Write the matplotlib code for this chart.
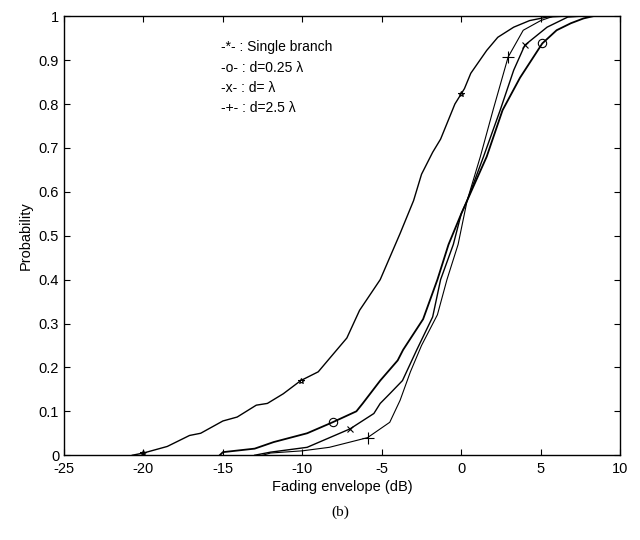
import matplotlib
matplotlib.use("Agg")
import matplotlib.pyplot as plt
import numpy as np

plt.rcParams["font.family"] = ["Liberation Sans", "DejaVu Sans"]
plt.rcParams["axes.unicode_minus"] = False

single_db = [-20.7, -20.0, -18.5, -17.1, -16.4, -15.0, -14.1, -12.9, -12.2, -11.2, -10.1,
             -9.0, -8.3, -7.2, -6.4, -5.1, -3.85, -3.0, -2.5, -1.8, -1.3, -0.4, 0.2, 0.6,
             1.6, 2.3, 3.3, 4.3, 5.4, 6.5]
single_p = [0.0, 0.005, 0.02, 0.045, 0.05, 0.078, 0.087, 0.114, 0.118, 0.14, 0.17,
            0.19, 0.22, 0.267, 0.33, 0.40, 0.505, 0.58, 0.64, 0.69, 0.72, 0.80, 0.835, 0.87,
            0.922, 0.952, 0.975, 0.99, 0.998, 1.0]

o_db = [-15.2, -15.0, -13.0, -11.8, -9.7, -8.1, -6.6, -6.2, -5.1, -4.0, -3.66, -2.4,
        -1.5, -0.8, 0.0, 0.37, 1.6, 2.6, 3.7, 5.1, 6.0, 6.9, 7.7, 8.3]
o_p = [0.0, 0.007, 0.015, 0.03, 0.05, 0.075, 0.10, 0.118, 0.17, 0.216, 0.24, 0.31,
       0.40, 0.48, 0.55, 0.58, 0.68, 0.786, 0.86, 0.938, 0.968, 0.984, 0.995, 1.0]

x_db = [-13.0, -12.0, -9.7, -7.0, -5.5, -5.1, -4.5, -3.7, -2.8, -1.8, -1.3, -0.5, 0.0,
        0.37, 1.4, 2.45, 3.3, 4.0, 5.4, 6.7, 7.5]
x_p = [0.0, 0.007, 0.018, 0.06, 0.095, 0.118, 0.14, 0.17, 0.24, 0.315, 0.40, 0.48, 0.55,
       0.58, 0.68, 0.786, 0.877, 0.934, 0.975, 0.998, 1.0]

plus_db = [-12.5, -12.0, -10.0, -8.3, -5.9, -4.5, -3.85, -3.2, -2.5, -1.5, -0.9, -0.2,
           0.37, 1.2, 2.0, 2.95, 3.9, 5.0, 5.8]
plus_p = [0.0, 0.005, 0.01, 0.018, 0.04, 0.075, 0.125, 0.19, 0.25, 0.32, 0.40, 0.48,
          0.58, 0.68, 0.786, 0.907, 0.968, 0.99, 1.0]

# where the sparse markers sit along each curve (dB)
single_marks = [-20.0, -10.1, 0.0]
o_marks = [-8.1, 5.1]
x_marks = [-7.0, 4.0]
plus_marks = [-5.9, 2.95]

legend_lines = ["-*- : Single branch", "-o- : d=0.25 \u03bb", "-x- : d= \u03bb", "-+- : d=2.5 \u03bb"]

fig = plt.figure(figsize=(6.4, 5.4), dpi=100)
ax = fig.add_axes([0.1, 0.157, 0.869, 0.813])

curves = [
    (single_db, single_p, single_marks, "*", 1.0, 4),
    (o_db, o_p, o_marks, "o", 1.3, 6),
    (x_db, x_p, x_marks, "x", 1.0, 5),
    (plus_db, plus_p, plus_marks, "+", 0.8, 8),
]
for xs, ps, marks, mk, lw, ms in curves:
    ax.plot(xs, ps, color="black", lw=lw)
    ax.plot(marks, np.interp(marks, xs, ps), linestyle="none", marker=mk,
            markersize=ms, markerfacecolor="none", markeredgecolor="black", markeredgewidth=0.8)

for i, line in enumerate(legend_lines):
    ax.text(-15.1, 0.929 - i * 0.046, line, fontsize=10, va="center", ha="left")

ax.set_xlim(-25, 10)
ax.set_ylim(0, 1)
ax.set_xticks(np.arange(-25, 11, 5))
ax.set_yticks(np.arange(0, 1.01, 0.1))
ax.set_yticklabels(["0", "0.1", "0.2", "0.3", "0.4", "0.5", "0.6", "0.7", "0.8", "0.9", "1"])
ax.tick_params(direction="in", top=True, right=True, length=4, width=0.8, labelsize=10.5)
ax.tick_params(axis="x", pad=5)
for sp in ax.spines.values():
    sp.set_linewidth(1.0)

ax.set_xlabel("Fading envelope (dB)", fontsize=10.5, labelpad=3)
ax.set_ylabel("Probability", fontsize=10.5, labelpad=4)

fig.text(0.531, 0.052, "(b)", fontsize=11, ha="center", va="center", family="Liberation Serif")

fig.savefig("out.png", dpi=100, facecolor="white")
